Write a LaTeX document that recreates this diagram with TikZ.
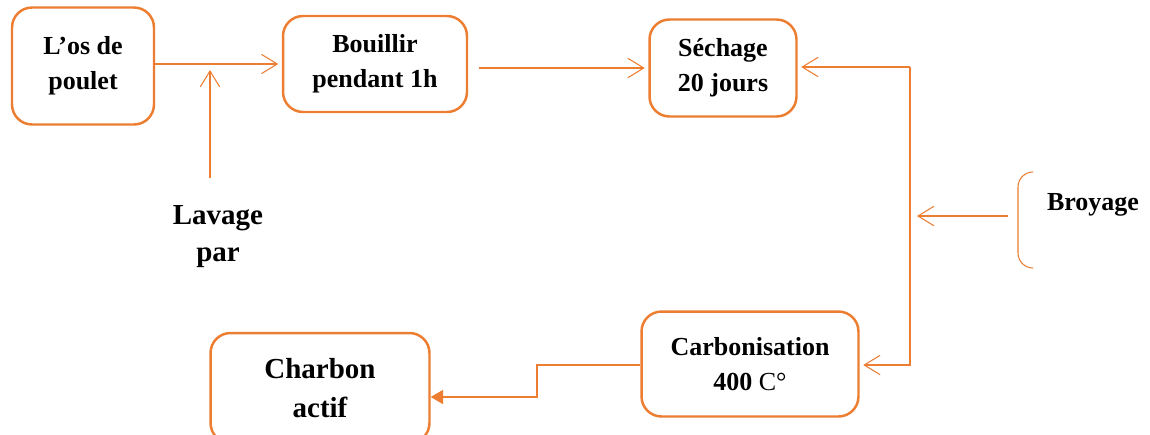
\documentclass[tikz,border=0pt]{standalone}
\usepackage{fontspec}
\setmainfont{Liberation Serif}
\usetikzlibrary{arrows.meta}
\definecolor{boxorange}{RGB}{237,125,49}

\begin{document}
\begin{tikzpicture}[x=0.02cm, y=-0.02cm]

\tikzstyle{box1}=[rectangle, draw=boxorange, line width=1.4pt, rounded corners=0.4cm, align=center, font=\bfseries\fontsize{14.8}{20}\selectfont]
\tikzstyle{box2}=[box1, font=\bfseries\fontsize{16.5}{22}\selectfont]
\tikzstyle{label1}=[align=center, font=\bfseries\fontsize{16.5}{21}\selectfont]
\tikzstyle{label2}=[align=center, font=\bfseries\fontsize{14.8}{20}\selectfont]
\tikzstyle{arrow}=[color=boxorange, line width=0.6pt, -{Straight Barb[length=9pt,width=11pt]}]
\tikzstyle{fillarrow}=[color=boxorange, line width=0.6pt, -{Triangle[length=7pt,width=8pt]}]

\useasboundingbox (0,0) rectangle (1150,434);

\node (A) [box1, minimum width=2.84cm, minimum height=2.34cm] at (83,66)  {L’os de\\ poulet};
\node (B) [box1, minimum width=3.68cm, minimum height=1.92cm] at (375,64) {Bouillir\\ pendant 1h};
\node (C) [box1, minimum width=2.94cm, minimum height=1.94cm] at (723,68) {Séchage\\ 20 jours};
\node (D) [box1, minimum width=4.34cm, minimum height=2.1cm] at (750,364) {Carbonisation\\ 400 {\mdseries C°}};
\node (E) [box2, minimum width=4.38cm, minimum height=2.2cm] at (320,388) {Charbon\\ actif};
\node (F) [label1] at (218,237) {Lavage\\ par};
\node (G) [label2] at (1093,205) {Broyage};

\coordinate (L1) at (210,178);
\coordinate (L2) at (210,70);
\coordinate (R1) at (910,67);
\coordinate (R2) at (910,365);
\coordinate (G1) at (1008,216);
\coordinate (G2) at (917,216);
\coordinate (K1) at (537,365);
\coordinate (K2) at (537,397);

\draw [arrow, shorten >=2pt] (A.east |- B.west) -- (B.west);
\draw [arrow] (L1) -- (L2);
\draw [arrow, shorten <=6pt, shorten >=2pt] (B.east |- C.west) -- (C.west);
\draw [arrow, shorten >=2pt] (R1) -- (C.east |- R1);
\draw [arrow, shorten >=2pt] (R1) -- (R2) -- (D.east |- R2);
\draw [arrow] (G1) -- (G2);
\draw [fillarrow] (D.west |- K1) -- (K1) -- (K2) -- (E.east |- K2);
\draw [color=boxorange, line width=0.6pt, rounded corners=0.3cm] (1033,172) -- (1018,172) -- (1018,268) -- (1033,268);

\end{tikzpicture}
\end{document}
